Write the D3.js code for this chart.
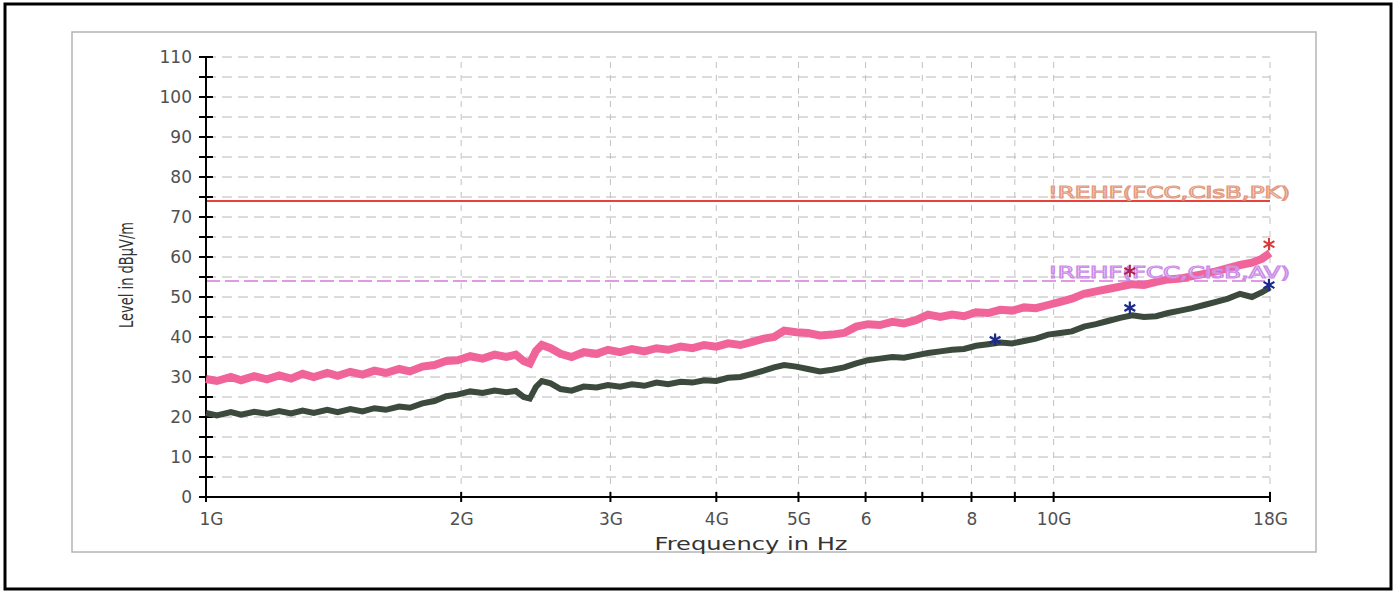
<!DOCTYPE html>
<html>
<head>
<meta charset="utf-8">
<script src="https://cdn.jsdelivr.net/npm/d3@7"></script>
<style>
	body { margin: 0; background: #fff; }
	#main { width: 1398px; height: 592px; }
	text { font-family: "DejaVu Sans", Verdana, sans-serif; }
</style>
</head>
<body>
<div id="main"></div>
<script>
var WIDTH = 1398, HEIGHT = 592;

// frequency in GHz
var freqs = [1.00, 1.03, 1.07, 1.10, 1.14, 1.18, 1.22, 1.26, 1.30, 1.34, 1.39, 1.43, 1.48, 1.53, 1.58, 1.63, 1.69, 1.74,
	1.80, 1.86, 1.92, 1.98, 2.05, 2.12, 2.19, 2.26, 2.32, 2.37, 2.41, 2.45, 2.49, 2.55, 2.62, 2.70, 2.79, 2.89, 2.98,
	3.08, 3.18, 3.29, 3.40, 3.51, 3.63, 3.75, 3.87, 4.00, 4.13, 4.27, 4.41, 4.55, 4.68, 4.81, 4.97, 5.13, 5.30, 5.48,
	5.66, 5.85, 6.04, 6.24, 6.45, 6.66, 6.88, 7.11, 7.35, 7.59, 7.84, 8.10, 8.37, 8.65, 8.93, 9.23, 9.53, 9.85, 10.18,
	10.51, 10.86, 11.22, 11.59, 11.98, 12.38, 12.78, 13.21, 13.65, 14.10, 14.57, 15.05, 15.55, 16.06, 16.59, 17.14, 17.62, 18.00];

// peak trace (dBuV/m)
var peakVals = [29.5, 29.0, 30.0, 29.2, 30.2, 29.4, 30.4, 29.6, 30.8, 30.0, 31.0, 30.3, 31.3, 30.6, 31.6, 31.0, 32.0, 31.4,
	32.6, 33.0, 34.0, 34.2, 35.2, 34.6, 35.6, 35.0, 35.6, 34.0, 33.4, 36.5, 38.0, 37.2, 35.8, 35.0, 36.2, 35.8, 36.8,
	36.2, 37.0, 36.4, 37.2, 36.8, 37.6, 37.2, 38.0, 37.6, 38.4, 38.0, 38.8, 39.6, 40.0, 41.6, 41.2, 41.0, 40.4, 40.6,
	41.0, 42.6, 43.2, 43.0, 43.8, 43.4, 44.2, 45.6, 45.0, 45.6, 45.2, 46.2, 46.0, 46.8, 46.6, 47.4, 47.2, 48.0, 48.8,
	49.6, 50.8, 51.4, 52.0, 52.6, 53.2, 53.0, 53.8, 54.4, 54.6, 55.2, 55.8, 56.4, 57.2, 58.0, 58.6, 59.6, 61.0];

// average trace (dBuV/m)
var avgVals = [21.0, 20.4, 21.2, 20.6, 21.3, 20.8, 21.5, 20.9, 21.6, 21.0, 21.8, 21.2, 22.0, 21.4, 22.2, 21.8, 22.6, 22.3,
	23.4, 24.0, 25.2, 25.6, 26.4, 26.0, 26.6, 26.2, 26.5, 25.0, 24.6, 27.5, 29.0, 28.4, 27.0, 26.6, 27.6, 27.4, 28.0,
	27.6, 28.2, 27.8, 28.6, 28.2, 28.8, 28.6, 29.2, 29.0, 29.8, 30.0, 30.8, 31.6, 32.4, 33.0, 32.6, 32.0, 31.4, 31.8,
	32.4, 33.4, 34.2, 34.6, 35.0, 34.8, 35.4, 36.0, 36.4, 36.8, 37.0, 37.8, 38.2, 38.6, 38.4, 39.0, 39.6, 40.6, 41.0,
	41.4, 42.6, 43.2, 44.0, 44.8, 45.4, 45.0, 45.2, 46.0, 46.6, 47.2, 48.0, 48.8, 49.6, 50.8, 50.0, 51.2, 52.4];

// limit lines
var limitNames = ["!REHF(FCC,ClsB,PK)", "!REHF(FCC,ClsB,AV)"];
var limitVals = [74, 54];

// final measurement markers
var peakMarkFreq = [12.30, 17.95];
var peakMarkVal = [56.5, 63.2];
var avgMarkFreq = [8.53, 12.30, 17.95];
var avgMarkVal = [39.3, 47.3, 53.0];

// axes
var yTicks = [0, 10, 20, 30, 40, 50, 60, 70, 80, 90, 100, 110];
var yMinor = [5, 15, 25, 35, 45, 55, 65, 75, 85, 95, 105];
var xTicks = [1, 2, 3, 4, 5, 6, 7, 8, 9, 10, 18];
var xTickLabels = ["1G", "2G", "3G", "4G", "5G", "6", "", "8", "", "10G", "18G"];
var xGrid = [2, 3, 4, 5, 6, 7, 8, 9, 10, 18];

var svg, plot, x, y;

function createCanvas() {
	svg = d3.select("#main").append("svg")
		.attr("id", "canvas")
		.attr("width", WIDTH)
		.attr("height", HEIGHT);

	// outer black frame
	svg.append("rect")
		.attr("x", 5).attr("y", 4)
		.attr("width", 1386).attr("height", 585)
		.attr("fill", "#fff")
		.attr("stroke", "#000")
		.attr("stroke-width", 3);

	// grey chart panel
	svg.append("rect")
		.attr("x", 72).attr("y", 32)
		.attr("width", 1244).attr("height", 520)
		.attr("fill", "#fff")
		.attr("stroke", "#b4b4b4")
		.attr("stroke-width", 1.5);

	plot = svg.append("g").attr("id", "plot");
}

function drawGrid() {
	plot.append("g").selectAll("line")
		.data(yTicks.concat(yMinor).filter(function(d) { return d > 0; }))
		.join("line")
			.attr("x1", x(1)).attr("x2", x(18))
			.attr("y1", function(d) { return y(d); })
			.attr("y2", function(d) { return y(d); })
			.attr("stroke", "#b8b8b8")
			.attr("stroke-width", 1)
			.attr("stroke-dasharray", "10,6");

	plot.append("g").selectAll("line")
		.data(xGrid)
		.join("line")
			.attr("x1", function(d) { return x(d); })
			.attr("x2", function(d) { return x(d); })
			.attr("y1", y(0)).attr("y2", y(110))
			.attr("stroke", "#c0c0c0")
			.attr("stroke-width", 1)
			.attr("stroke-dasharray", "6,7");
}

function drawAxes() {
	var yAxis = d3.axisLeft(y)
		.tickValues(yTicks)
		.tickSize(0)
		.tickPadding(14);
	var gy = plot.append("g")
		.attr("transform", "translate(" + x(1) + ",0)")
		.call(yAxis);
	gy.select(".domain").remove();
	gy.selectAll("text")
		.attr("font-family", "DejaVu Sans, sans-serif")
		.attr("font-size", 17)
		.attr("fill", "#505050");

	// tick marks crossing the axis
	plot.append("g").selectAll("line")
		.data(yTicks.concat(yMinor))
		.join("line")
			.attr("x1", x(1) - 7).attr("x2", x(1) + 7)
			.attr("y1", function(d) { return y(d); })
			.attr("y2", function(d) { return y(d); })
			.attr("stroke", "#000")
			.attr("stroke-width", 2);

	var xAxis = d3.axisBottom(x)
		.tickValues(xTicks)
		.tickFormat(function(d, i) { return xTickLabels[i]; })
		.tickSize(0)
		.tickPadding(16);
	var gx = plot.append("g")
		.attr("transform", "translate(0," + y(0) + ")")
		.call(xAxis);
	gx.select(".domain").remove();
	gx.selectAll("text")
		.attr("font-family", "DejaVu Sans, sans-serif")
		.attr("font-size", 17)
		.attr("fill", "#505050")
		.attr("dx", function(d) { return d === 1 ? 5 : 0; });

	plot.append("g").selectAll("line")
		.data(xTicks)
		.join("line")
			.attr("x1", function(d) { return x(d); })
			.attr("x2", function(d) { return x(d); })
			.attr("y1", y(0) - 5).attr("y2", y(0) + 5)
			.attr("stroke", "#000")
			.attr("stroke-width", 2);

	// axis lines
	plot.append("line")
		.attr("x1", x(1)).attr("x2", x(1))
		.attr("y1", y(0)).attr("y2", y(110))
		.attr("stroke", "#000").attr("stroke-width", 2);
	plot.append("line")
		.attr("x1", x(1)).attr("x2", x(18))
		.attr("y1", y(0)).attr("y2", y(0))
		.attr("stroke", "#000").attr("stroke-width", 2);

	// titles
	plot.append("text")
		.attr("x", 751).attr("y", 550)
		.attr("text-anchor", "middle")
		.attr("font-size", 17)
		.attr("fill", "#333")
		.attr("textLength", 193)
		.attr("lengthAdjust", "spacingAndGlyphs")
		.text("Frequency in Hz");

	plot.append("text")
		.attr("transform", "translate(133,275) rotate(-90)")
		.attr("text-anchor", "middle")
		.attr("font-family", "Liberation Sans Narrow, Liberation Sans, Arial, sans-serif")
		.attr("font-size", 19)
		.attr("fill", "#333")
		.attr("textLength", 106)
		.attr("lengthAdjust", "spacingAndGlyphs")
		.text("Level in dBµV/m");
}

function drawLimits() {
	var colors = ["#e8423c", "#d878d8"];
	var dashes = [null, "14,5"];
	limitVals.forEach(function(v, i) {
		plot.append("line")
			.attr("x1", x(1)).attr("x2", x(18))
			.attr("y1", y(v)).attr("y2", y(v))
			.attr("stroke", colors[i])
			.attr("stroke-width", i === 0 ? 2 : 1.5)
			.attr("stroke-dasharray", dashes[i]);
	});
}

function drawLimitLabels() {
	var textColors = ["#e39a80", "#cc8be8"];
	limitVals.forEach(function(v, i) {
		plot.append("text")
			.attr("x", 1048).attr("y", y(v) - 3)
			.attr("font-size", 15)
			.attr("fill", "#fff")
			.attr("fill-opacity", 0.6)
			.attr("stroke", textColors[i])
			.attr("stroke-width", 1.1)
			.attr("textLength", 242)
			.attr("lengthAdjust", "spacingAndGlyphs")
			.text(limitNames[i]);
	});
}

function drawTraces() {
	var line = d3.line()
		.x(function(d) { return x(d[0]); })
		.y(function(d) { return y(d[1]); });

	plot.append("path")
		.datum(d3.zip(freqs, avgVals))
		.attr("d", line)
		.attr("fill", "none")
		.attr("stroke", "#3b4a3c")
		.attr("stroke-width", 6)
		.attr("stroke-linejoin", "miter");

	plot.append("path")
		.datum(d3.zip(freqs, peakVals))
		.attr("d", line)
		.attr("fill", "none")
		.attr("stroke", "#f0649a")
		.attr("stroke-width", 8)
		.attr("stroke-linejoin", "miter");
}

function drawMarkers() {
	var star = d3.symbol().type(d3.symbolAsterisk).size(110);
	plot.append("g").selectAll("path")
		.data(d3.zip(peakMarkFreq, peakMarkVal))
		.join("path")
			.attr("d", star)
			.attr("transform", function(d) { return "translate(" + x(d[0]) + "," + y(d[1]) + ")"; })
			.attr("fill", "none")
			.attr("stroke", function(d, i) { return i === 0 ? "#b0204a" : "#d83a3a"; })
			.attr("stroke-width", 2);

	plot.append("g").selectAll("path")
		.data(d3.zip(avgMarkFreq, avgMarkVal))
		.join("path")
			.attr("d", star)
			.attr("transform", function(d) { return "translate(" + x(d[0]) + "," + y(d[1]) + ")"; })
			.attr("fill", "none")
			.attr("stroke", "#1c2a8c")
			.attr("stroke-width", 2.2);
}

createCanvas();

x = d3.scaleLog().domain([1, 18]).range([206, 1270]);
y = d3.scaleLinear().domain([0, 110]).range([497, 57]);

drawGrid();
drawLimits();
drawAxes();
drawTraces();
drawLimitLabels();
drawMarkers();
</script>
</body>
</html>
